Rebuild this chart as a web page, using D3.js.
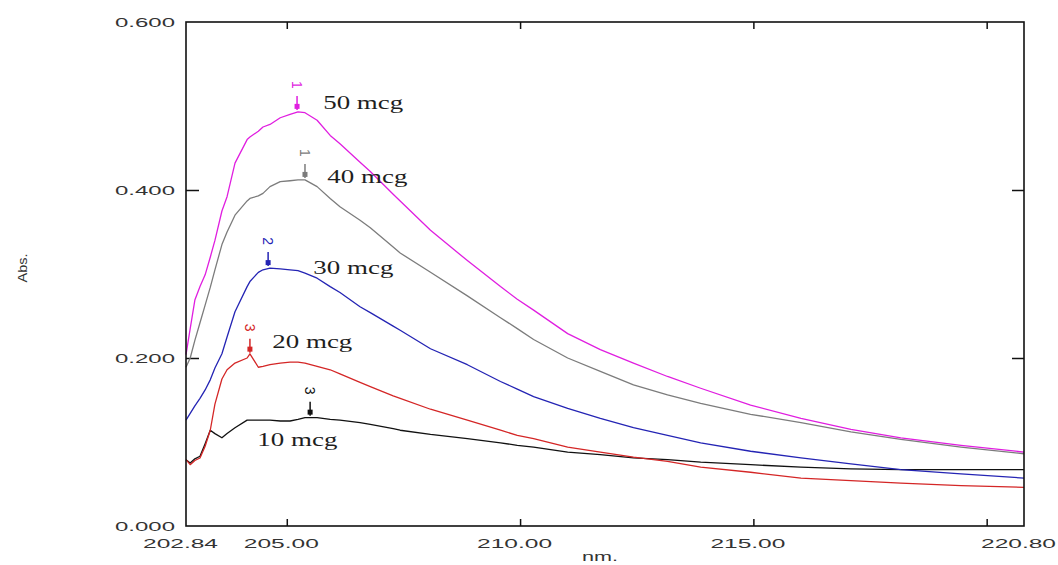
<!DOCTYPE html>
<html>
<head>
<meta charset="utf-8">
<script src="https://cdn.jsdelivr.net/npm/d3@7"></script>
<style>
  html, body { margin: 0; padding: 0; background: #fff; }
  svg { display: block; }
  .ax text { font-family: "Liberation Sans", Arial, sans-serif; font-size: 13px; fill: #333; }
  .conc { font-family: "Liberation Serif", "Times New Roman", serif; font-size: 19px; fill: #1e1e1e; }
  .peak-no { font-family: "Liberation Sans", Arial, sans-serif; font-size: 14px; }
</style>
</head>
<body>
<svg id="chart" width="1058" height="565"></svg>
<script>
/* UV spectra, 10–50 mcg — absorbance vs wavelength */
const wavelengths = [202.84, 202.93, 203.03, 203.14, 203.25, 203.36, 203.46, 203.61, 203.72, 203.89,
  204.15, 204.21, 204.39, 204.49, 204.64, 204.86, 205.07, 205.24, 205.39, 205.65,
  205.93, 206.14, 206.57, 206.79, 207.28, 207.43, 208.08, 208.87, 209.58, 209.94,
  210.29, 211.02, 211.72, 212.43, 213.16, 213.87, 214.94, 216.02, 217.09, 218.16,
  219.45, 220.80];

const abs50 = [0.204, 0.235, 0.269, 0.285, 0.299, 0.320, 0.340, 0.375, 0.392, 0.432,
  0.460, 0.463, 0.470, 0.475, 0.478, 0.486, 0.490, 0.493, 0.492, 0.483,
  0.465, 0.455, 0.433, 0.422, 0.395, 0.387, 0.352, 0.316, 0.285, 0.270,
  0.257, 0.229, 0.210, 0.194, 0.178, 0.164, 0.144, 0.128, 0.115, 0.105,
  0.096, 0.088];
const abs40 = [0.189, 0.200, 0.221, 0.242, 0.263, 0.284, 0.305, 0.335, 0.350, 0.370,
  0.387, 0.390, 0.393, 0.396, 0.404, 0.410, 0.411, 0.412, 0.412, 0.404,
  0.390, 0.380, 0.364, 0.355, 0.332, 0.325, 0.302, 0.274, 0.248, 0.235,
  0.222, 0.200, 0.184, 0.168, 0.156, 0.146, 0.133, 0.123, 0.112, 0.103,
  0.094, 0.086];
const abs30 = [0.126, 0.134, 0.143, 0.152, 0.162, 0.174, 0.188, 0.205, 0.225, 0.255,
  0.285, 0.291, 0.302, 0.305, 0.307, 0.306, 0.305, 0.304, 0.301, 0.295,
  0.285, 0.278, 0.261, 0.254, 0.238, 0.233, 0.211, 0.192, 0.172, 0.163,
  0.154, 0.140, 0.128, 0.117, 0.108, 0.099, 0.089, 0.081, 0.074, 0.067,
  0.062, 0.057];
const abs20 = [0.079, 0.073, 0.078, 0.081, 0.095, 0.114, 0.145, 0.175, 0.186, 0.194,
  0.200, 0.205, 0.189, 0.190, 0.192, 0.194, 0.195, 0.195, 0.194, 0.190,
  0.186, 0.181, 0.171, 0.166, 0.155, 0.152, 0.139, 0.126, 0.114, 0.108,
  0.104, 0.094, 0.088, 0.082, 0.077, 0.070, 0.064, 0.057, 0.054, 0.051,
  0.048, 0.046];
const abs10 = [0.079, 0.075, 0.080, 0.083, 0.098, 0.114, 0.110, 0.105, 0.110, 0.117,
  0.126, 0.126, 0.126, 0.126, 0.126, 0.125, 0.125, 0.127, 0.129, 0.129,
  0.127, 0.126, 0.123, 0.121, 0.116, 0.114, 0.109, 0.104, 0.099, 0.096,
  0.094, 0.088, 0.085, 0.081, 0.079, 0.076, 0.073, 0.070, 0.068, 0.067,
  0.067, 0.067];

const seriesNames = ["10 mcg", "20 mcg", "30 mcg", "40 mcg", "50 mcg"];
const seriesValues = [abs10, abs20, abs30, abs40, abs50];
const seriesColors = ["#111111", "#d42626", "#2424b4", "#7c7c7c", "#e01ee0"];

// peak picks: wavelength, absorbance, peak number
const peakNm = [205.50, 204.21, 204.60, 205.39, 205.22];
const peakAbs = [0.129, 0.204, 0.307, 0.412, 0.493];
const peakNo = ["3", "3", "2", "1", "1"];

// where each concentration label sits (nm, abs of baseline)
const labelNm = [204.37, 204.69, 205.57, 205.87, 205.78];
const labelAbs = [0.095, 0.212, 0.300, 0.408, 0.496];

const xTickMarks = [205, 210, 215, 220];
const xTickLabels = [202.84, 205, 210, 215, 220.80];
const yTickMarks = [0.2, 0.4];
const yTickLabels = [0, 0.2, 0.4, 0.6];

const L = 186, R = 1024, T = 22, B = 526;
const svg = d3.select("#chart");

const x = d3.scaleLinear().domain([202.84, 220.80]).range([L, R]);
const y = d3.scaleLinear().domain([0, 0.6]).range([B, T]);

/* inward tick marks on all four sides */
svg.append("g").attr("transform", `translate(0,${B})`)
  .call(d3.axisBottom(x).tickValues(xTickMarks).tickSize(-7).tickFormat(""));
svg.append("g").attr("transform", `translate(0,${T})`)
  .call(d3.axisTop(x).tickValues(xTickMarks).tickSize(-7).tickFormat(""));
svg.append("g").attr("transform", `translate(${L},0)`)
  .call(d3.axisLeft(y).tickValues(yTickMarks).tickSize(-13).tickFormat(""));
svg.append("g").attr("transform", `translate(${R},0)`)
  .call(d3.axisRight(y).tickValues(yTickMarks).tickSize(-12).tickFormat(""));
svg.selectAll(".domain").remove();
svg.selectAll(".tick line").attr("stroke", "#111").attr("stroke-width", 1.5);

/* tick labels */
const xl = svg.append("g").attr("class", "ax").attr("transform", `translate(-6,${B})`)
  .call(d3.axisBottom(x).tickValues(xTickLabels).tickSize(0).tickPadding(13).tickFormat(d3.format(".2f")));
xl.selectAll("text").attr("textLength", 75).attr("lengthAdjust", "spacingAndGlyphs");
const yl = svg.append("g").attr("class", "ax").attr("transform", `translate(${L},0)`)
  .call(d3.axisLeft(y).tickValues(yTickLabels).tickSize(0).tickPadding(11).tickFormat(d3.format(".3f")));
yl.selectAll("text").attr("textLength", 60).attr("lengthAdjust", "spacingAndGlyphs");
svg.selectAll(".ax .domain").remove();

/* axis titles */
svg.append("text")
  .attr("x", 582).attr("y", 561)
  .attr("textLength", 36).attr("lengthAdjust", "spacingAndGlyphs")
  .style("font-family", "Liberation Sans, Arial, sans-serif").style("font-size", "13px").style("fill", "#333")
  .text("nm.");
svg.append("text")
  .attr("transform", "translate(27,268) rotate(-90)")
  .attr("text-anchor", "middle")
  .attr("textLength", 29).attr("lengthAdjust", "spacingAndGlyphs")
  .style("font-family", "Liberation Sans, Arial, sans-serif").style("font-size", "12px").style("fill", "#333")
  .text("Abs.");

/* spectra */
const line = d3.line().x(d => x(d[0])).y(d => y(d[1]));
svg.append("g").selectAll("path")
  .data(seriesValues).join("path")
  .attr("fill", "none")
  .attr("stroke", (d, i) => seriesColors[i])
  .attr("stroke-width", 1.3)
  .attr("stroke-linejoin", "round")
  .attr("d", vals => line(wavelengths.map((w, j) => [w, vals[j]])));

/* peak arrows + numbers */
const pk = svg.append("g").selectAll("g")
  .data(peakNm).join("g")
  .attr("transform", (d, i) => `translate(${x(d)},${y(peakAbs[i])})`);
pk.append("line")
  .attr("y1", -16).attr("y2", -2)
  .attr("stroke", (d, i) => seriesColors[i]).attr("stroke-width", 1.5);
pk.append("rect")
  .attr("x", -2.5).attr("y", -8).attr("width", 5).attr("height", 5)
  .attr("fill", (d, i) => seriesColors[i]);
pk.append("text").attr("class", "peak-no")
  .attr("transform", "translate(0,-27) rotate(90)")
  .attr("text-anchor", "middle").attr("dy", "0.35em")
  .attr("fill", (d, i) => seriesColors[i])
  .text((d, i) => peakNo[i]);

/* concentration labels */
svg.append("g").selectAll("text")
  .data(seriesNames).join("text")
  .attr("class", "conc")
  .attr("x", (d, i) => x(labelNm[i]))
  .attr("y", (d, i) => y(labelAbs[i]))
  .attr("textLength", 80).attr("lengthAdjust", "spacingAndGlyphs")
  .text(d => d);

/* plot frame */
svg.append("rect")
  .attr("x", L).attr("y", T).attr("width", R - L).attr("height", B - T)
  .attr("fill", "none").attr("stroke", "#111").attr("stroke-width", 1.6);
</script>
</body>
</html>
